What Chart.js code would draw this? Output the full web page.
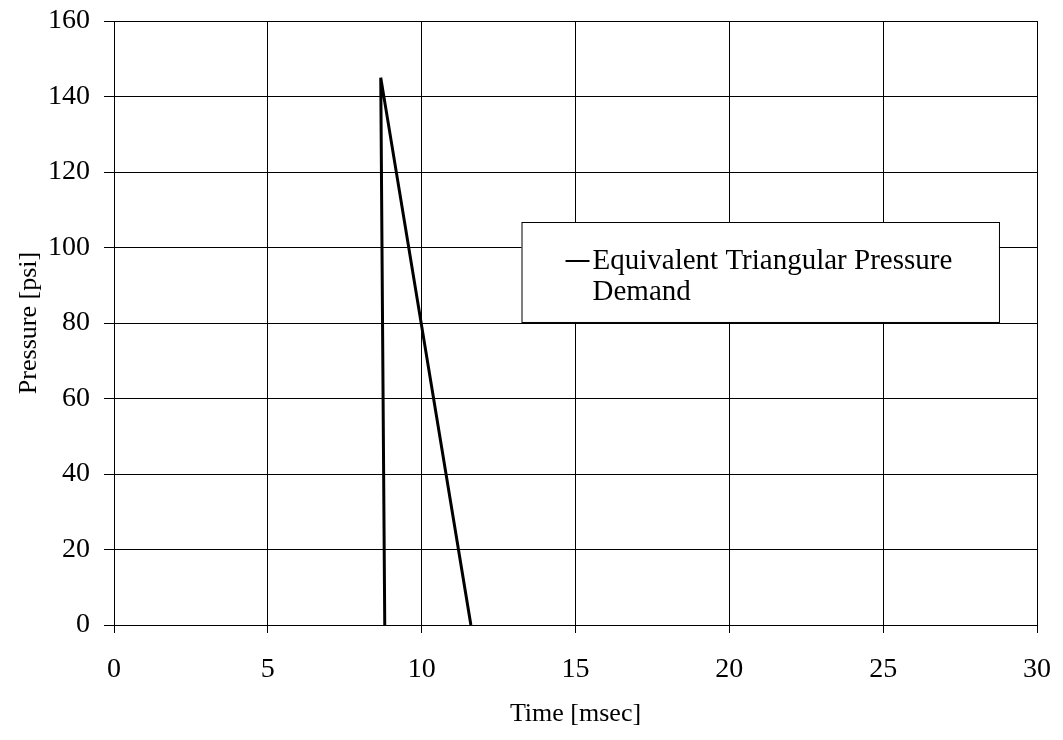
<!DOCTYPE html>
<html>
<head>
<meta charset="utf-8">
<script src="https://cdn.jsdelivr.net/npm/chart.js@4"></script>
<style>
  html, body { margin: 0; padding: 0; background: #fff; }
  #wrap { width: 1063px; height: 740px; }
</style>
</head>
<body>
<div id="wrap"><canvas id="pressureChart" width="1063" height="740"></canvas></div>
<script>
// Equivalent triangular pressure pulse
const timeMs = [8.8, 8.67, 11.6];
const pressurePsi = [0, 145, 0];
const seriesLabel = ['Equivalent Triangular Pressure', 'Demand'];
const xTicks = [0, 5, 10, 15, 20, 25, 30];
const yTicks = [0, 20, 40, 60, 80, 100, 120, 140, 160];

const serif = 'Liberation Serif, Times New Roman, serif';

// legend drawn inside the plot area, like the original
const boxLegend = {
    id: 'boxLegend',
    afterDraw(chart) {
        const ctx = chart.ctx;
        const a = chart.chartArea;
        const w = a.right - a.left, h = a.bottom - a.top;
        const x0 = a.left + w * 0.4415, x1 = a.left + w * 0.9588;
        const y0 = a.top + h * 0.3328, y1 = a.top + h * 0.4983;
        ctx.save();
        ctx.fillStyle = '#fff';
        ctx.fillRect(x0, y0, x1 - x0, y1 - y0);
        ctx.strokeStyle = '#000';
        ctx.lineWidth = 1;
        ctx.strokeRect(x0 + 0.5, y0 + 0.5, x1 - x0, y1 - y0);
        ctx.lineWidth = 2;
        ctx.beginPath();
        ctx.moveTo(x0 + 44, y0 + 39);
        ctx.lineTo(x0 + 68, y0 + 39);
        ctx.stroke();
        ctx.fillStyle = '#000';
        ctx.font = '29px ' + serif;
        ctx.textBaseline = 'middle';
        ctx.fillText(seriesLabel[0], x0 + 71, y0 + 39);
        ctx.fillText(seriesLabel[1], x0 + 71, y0 + 70);
        ctx.restore();
    }
};

const ctx = document.getElementById('pressureChart').getContext('2d');
const chart = new Chart(ctx, {
    type: 'line',
    data: {
        datasets: [{
            label: seriesLabel.join(' '),
            data: timeMs.map((t, i) => ({ x: t, y: pressurePsi[i] })),
            borderColor: '#000',
            borderWidth: 3,
            pointRadius: 0,
            fill: false,
            tension: 0
        }]
    },
    options: {
        responsive: false,
        animation: false,
        layout: { padding: { top: 21, right: 26, left: 0, bottom: 0 } },
        plugins: {
            legend: { display: false },
            tooltip: { enabled: false }
        },
        scales: {
            x: {
                type: 'linear',
                min: 0,
                max: 30,
                afterBuildTicks: s => { s.ticks = xTicks.map(v => ({ value: v })); },
                afterFit: s => { s.height = 115; s.paddingLeft = 0; s.paddingRight = 0; },
                grid: { color: '#000', lineWidth: 1, tickLength: 8, drawTicks: true },
                border: { color: '#000', width: 1 },
                ticks: { color: '#000', font: { family: serif, size: 28 }, padding: 20, maxRotation: 0 },
                title: { display: true, text: 'Time [msec]', color: '#000', font: { family: serif, size: 26 }, padding: { top: 0, bottom: 10 } }
            },
            y: {
                type: 'linear',
                min: 0,
                max: 160,
                afterBuildTicks: s => { s.ticks = yTicks.map(v => ({ value: v })); },
                afterFit: s => { s.width = 114; s.paddingTop = 0; s.paddingBottom = 0; },
                grid: { color: '#000', lineWidth: 1, tickLength: 10 },
                border: { color: '#000', width: 1 },
                ticks: { color: '#000', font: { family: serif, size: 28 }, padding: 14 },
                title: { display: true, text: 'Pressure [psi]', color: '#000', font: { family: serif, size: 26 }, padding: { top: 14, bottom: 12 } }
            }
        }
    },
    plugins: [boxLegend]
});
</script>
</body>
</html>
